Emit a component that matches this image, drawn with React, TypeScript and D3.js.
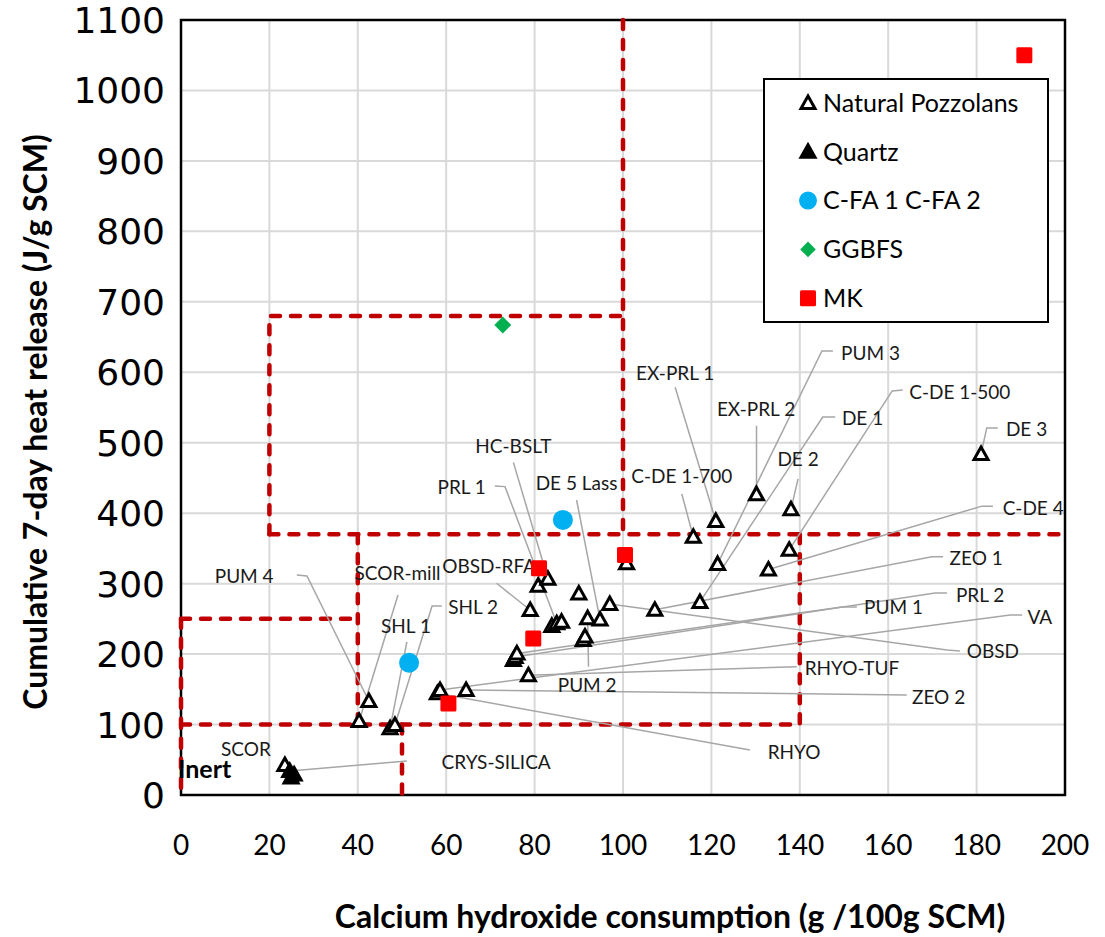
import React, { useEffect, useRef } from 'react';
import * as d3 from 'd3';

// Natural pozzolans: [CH consumption, 7-day heat]
const naturalPozzolans: [number, number][] = [
  [23.5, 42.6], [40.3, 105], [42.5, 133.4], [47.3, 94.6], [48.4, 99.4],
  [58, 144.3], [58.6, 149], [64.5, 149], [75.2, 191.6], [75.6, 196],
  [76, 201], [78.6, 170], [79, 262.6], [80.8, 297], [83, 307],
  [83.9, 240], [85, 243.7], [86.1, 246], [90, 286], [91, 220],
  [91.4, 225], [92, 251], [94.8, 249], [97, 271], [100.8, 329],
  [107.2, 263], [115.9, 366.6], [117.4, 274], [121, 389], [121.4, 328],
  [130.2, 427], [132.9, 320], [137.6, 348], [138, 405.5], [181, 484],
];
const quartz: [number, number][] = [[24.6, 34], [25.6, 29], [24.9, 25]];
const flyAsh: [number, number][] = [[51.6, 187.7], [86.4, 390.4]];
const ggbfs: [number, number][] = [[72.8, 667]];
const metakaolin: [number, number][] = [[60.5, 130], [79.7, 222], [81, 322], [100.45, 340.7], [190.8, 1050]];

const xTicks = [0, 20, 40, 60, 80, 100, 120, 140, 160, 180, 200];
const yTicks = [0, 100, 200, 300, 400, 500, 600, 700, 800, 900, 1000, 1100];

const legendNames = ['Natural Pozzolans', 'Quartz', 'C-FA 1 C-FA 2', 'GGBFS', 'MK'];

// reactivity zone boundaries (red dashed)
const zoneLines: [number, number][][] = [
  [[100, 1100], [100, 370]],
  [[20, 370], [200, 370]],
  [[20, 370], [20, 680], [100, 680]],
  [[40, 370], [40, 100]],
  [[0, 250], [40, 250]],
  [[0, 100], [140, 100]],
  [[140, 370], [140, 100]],
  [[50, 100], [50, 0]],
  [[0, 250], [0, 0]],
];

// data labels: text, label centre, leader path, index of the point it names
const labels: { text: string; at: [number, number]; path: [number, number][]; pt: number | null; q?: boolean }[] = [
  { text: 'SCOR', at: [14.7, 65], path: [], pt: null },
  { text: 'PUM 4', at: [14.3, 310], path: [[26.2, 312.3], [28.5, 310.9]], pt: 2 },
  { text: 'SCOR-mill', at: [49, 314.7], path: [[49.1, 284]], pt: 1 },
  { text: 'SHL 1', at: [50.9, 240], path: [[51.1, 217.3]], pt: 3 },
  { text: 'SHL 2', at: [66.1, 267], path: [[59, 268.1], [56.8, 268.1]], pt: 4 },
  { text: 'OBSD-RFA', at: [69.7, 324], path: [[71.4, 300.5]], pt: 12 },
  { text: 'PRL 1', at: [63.5, 436.2], path: [[71, 438.6], [73.3, 437.7]], pt: 16 },
  { text: 'HC-BSLT', at: [75.2, 495.4], path: [[75.2, 472.1]], pt: 14 },
  { text: 'DE 5 Lass', at: [89.5, 442.4], path: [[89.5, 418.7]], pt: 22 },
  { text: 'PUM 2', at: [91.9, 156], path: [[92.2, 182.1]], pt: 21 },
  { text: 'C-DE 1-700', at: [113.3, 451.8], path: [[113.3, 427.4]], pt: 26 },
  { text: 'EX-PRL 1', at: [111.8, 599], path: [[111.8, 578.7]], pt: 28 },
  { text: 'EX-PRL 2', at: [130.1, 548], path: [[130.2, 524.1]], pt: 30 },
  { text: 'DE 2', at: [139.6, 477], path: [[139.6, 448.6]], pt: 33 },
  { text: 'PUM 3', at: [156, 627], path: [[147.5, 630.2], [145, 630.2]], pt: 29 },
  { text: 'DE 1', at: [154.2, 535], path: [[148, 536.5], [145.2, 536.5]], pt: 27 },
  { text: 'C-DE 1-500', at: [176.2, 572], path: [[163.3, 575], [160.9, 573.5]], pt: 32 },
  { text: 'DE 3', at: [191.3, 519.5], path: [[184.8, 521], [182.3, 521]], pt: 34 },
  { text: 'C-DE 4', at: [192.8, 407], path: [[183.7, 410], [181.2, 410]], pt: 31 },
  { text: 'ZEO 1', at: [179.9, 335.7], path: [[172.4, 338], [169.9, 338]], pt: 25 },
  { text: 'PRL 2', at: [180.8, 284], path: [[173.3, 286.7], [170.6, 286.7]], pt: 9 },
  { text: 'PUM 1', at: [161.2, 267], path: [[152.9, 267], [149.5, 267]], pt: 10 },
  { text: 'VA', at: [194.3, 252.7], path: [[190.3, 255.5], [187.6, 255.5]], pt: 6 },
  { text: 'OBSD', at: [183.7, 204.4], path: [[176.2, 204.4], [173.3, 205.8]], pt: 23 },
  { text: 'RHYO-TUF', at: [151.8, 180], path: [[139.3, 182]], pt: 11 },
  { text: 'ZEO 2', at: [171.4, 139], path: [[164.2, 142]], pt: 7 },
  { text: 'RHYO', at: [138.7, 61], path: [[128.7, 63.9]], pt: 5 },
  { text: 'CRYS-SILICA', at: [71.3, 46.8], path: [[51.1, 48.3]], pt: 0, q: true },
];

const W = 1105;
const H = 937;
const LABEL_FONT = 'Lato, "Noto Sans", sans-serif';

const triPath = 'M0,-7L7,5.5L-7,5.5Z';

const App = () => {
  const svgRef = useRef<SVGSVGElement>(null);

  useEffect(() => {
    document.body.style.margin = '0';
    const svg = d3.select(svgRef.current);
    svg.selectAll('*').remove();

    const margin = { top: 20, right: 40, bottom: 142, left: 181 };
    const x = d3.scaleLinear().domain([0, 200]).range([margin.left, W - margin.right]);
    const y = d3.scaleLinear().domain([0, 1100]).range([H - margin.bottom, margin.top]);

    svg.append('rect').attr('width', W).attr('height', H).attr('fill', '#fff');

    // gridlines
    svg.append('g')
      .selectAll('line')
      .data(xTicks.slice(1))
      .join('line')
      .attr('x1', d => x(d)).attr('x2', d => x(d))
      .attr('y1', y(0)).attr('y2', y(1100))
      .attr('stroke', '#d9d9d9').attr('stroke-width', 2);
    svg.append('g')
      .selectAll('line')
      .data(yTicks.slice(1))
      .join('line')
      .attr('x1', x(0)).attr('x2', x(200))
      .attr('y1', d => y(d)).attr('y2', d => y(d))
      .attr('stroke', '#d9d9d9').attr('stroke-width', 2);

    // plot border
    svg.append('rect')
      .attr('x', x(0)).attr('y', y(1100))
      .attr('width', x(200) - x(0)).attr('height', y(0) - y(1100))
      .attr('fill', 'none').attr('stroke', '#000').attr('stroke-width', 2.5);

    // tick labels
    svg.append('g')
      .selectAll('text')
      .data(xTicks)
      .join('text')
      .attr('x', d => x(d)).attr('y', 855)
      .attr('text-anchor', 'middle')
      .attr('font-family', LABEL_FONT).attr('font-size', 28)
      .text(d => d);
    svg.append('g')
      .selectAll('text')
      .data(yTicks)
      .join('text')
      .attr('x', 165).attr('y', d => y(d))
      .attr('dy', '0.36em')
      .attr('text-anchor', 'end')
      .attr('font-family', '"DejaVu Sans", Verdana, sans-serif').attr('font-size', 36)
      .text(d => d);

    // axis titles
    svg.append('text')
      .attr('x', 670).attr('y', 928)
      .attr('text-anchor', 'middle')
      .attr('font-family', LABEL_FONT).attr('font-weight', 'bold').attr('font-size', 32)
      .text('Calcium hydroxide consumption (g /100g SCM)');
    svg.append('text')
      .attr('transform', 'translate(47,422) rotate(-90)')
      .attr('text-anchor', 'middle')
      .attr('font-family', LABEL_FONT).attr('font-weight', 'bold').attr('font-size', 32)
      .text('Cumulative 7-day heat release (J/g SCM)');

    // zone boundaries
    const zl = d3.line<[number, number]>().x(d => x(d[0])).y(d => y(d[1]));
    svg.append('g')
      .selectAll('path')
      .data(zoneLines)
      .join('path')
      .attr('d', d => zl(d))
      .attr('fill', 'none')
      .attr('stroke', '#c00000').attr('stroke-width', 4.5)
      .attr('stroke-dasharray', '9 11').attr('stroke-linecap', 'round');

    // leader lines
    svg.append('g')
      .selectAll('path')
      .data(labels.filter(l => l.pt !== null))
      .join('path')
      .attr('d', l => {
        const target = l.q ? quartz[l.pt as number] : naturalPozzolans[l.pt as number];
        return zl([...l.path, target]);
      })
      .attr('fill', 'none').attr('stroke', '#a6a6a6').attr('stroke-width', 1.5);

    svg.append('g')
      .selectAll('text')
      .data(labels)
      .join('text')
      .attr('x', l => x(l.at[0])).attr('y', l => y(l.at[1]))
      .attr('dy', '0.35em')
      .attr('text-anchor', 'middle')
      .attr('font-family', LABEL_FONT).attr('font-size', 19)
      .attr('fill', '#1a1a1a')
      .text(l => l.text);

    svg.append('text')
      .attr('x', x(0) - 3).attr('y', y(37))
      .attr('dy', '0.35em')
      .attr('font-family', LABEL_FONT).attr('font-weight', 'bold').attr('font-size', 25)
      .text('Inert');

    // markers
    const drawTri = (g: d3.Selection<SVGGElement, unknown, null, undefined>, pts: [number, number][], filled: boolean) => {
      g.selectAll('path')
        .data(pts)
        .join('path')
        .attr('d', triPath)
        .attr('transform', d => `translate(${x(d[0])},${y(d[1])})`)
        .attr('fill', filled ? '#000' : '#fff')
        .attr('stroke', '#000').attr('stroke-width', 3).attr('stroke-linejoin', 'miter');
    };
    drawTri(svg.append('g'), naturalPozzolans, false);
    drawTri(svg.append('g'), quartz, true);

    svg.append('g')
      .selectAll('circle')
      .data(flyAsh)
      .join('circle')
      .attr('cx', d => x(d[0])).attr('cy', d => y(d[1]))
      .attr('r', 10).attr('fill', '#00b0f0');

    svg.append('g')
      .selectAll('rect')
      .data(ggbfs)
      .join('rect')
      .attr('x', -6).attr('y', -6).attr('width', 12).attr('height', 12)
      .attr('transform', d => `translate(${x(d[0])},${y(d[1])}) rotate(45)`)
      .attr('fill', '#00b050');

    svg.append('g')
      .selectAll('rect')
      .data(metakaolin)
      .join('rect')
      .attr('x', d => x(d[0]) - 8).attr('y', d => y(d[1]) - 8)
      .attr('width', 16).attr('height', 16).attr('rx', 1.5)
      .attr('fill', '#ff0000');

    // legend
    const lg = svg.append('g').attr('transform', 'translate(764,79)');
    lg.append('rect')
      .attr('width', 284).attr('height', 243)
      .attr('fill', '#fff').attr('stroke', '#000').attr('stroke-width', 2);
    const rowY = (i: number) => 24 + i * 48.8;
    legendNames.forEach((name, i) => {
      const row = lg.append('g').attr('transform', `translate(44,${rowY(i)})`);
      if (i === 0 || i === 1) {
        row.append('path').attr('d', triPath)
          .attr('fill', i === 0 ? '#fff' : '#000')
          .attr('stroke', '#000').attr('stroke-width', 3);
      } else if (i === 2) {
        row.append('circle').attr('r', 9).attr('fill', '#00b0f0');
      } else if (i === 3) {
        row.append('rect').attr('x', -5.5).attr('y', -5.5).attr('width', 11).attr('height', 11)
          .attr('transform', 'rotate(45)').attr('fill', '#00b050');
      } else {
        row.append('rect').attr('x', -8).attr('y', -8).attr('width', 16).attr('height', 16)
          .attr('rx', 1.5).attr('fill', '#ff0000');
      }
      row.append('text')
        .attr('x', 15).attr('dy', '0.35em')
        .attr('font-family', LABEL_FONT).attr('font-size', 25)
        .text(name);
    });
  }, []);

  return <svg ref={svgRef} width={W} height={H} style={{ display: 'block' }}></svg>;
};

export default App;
